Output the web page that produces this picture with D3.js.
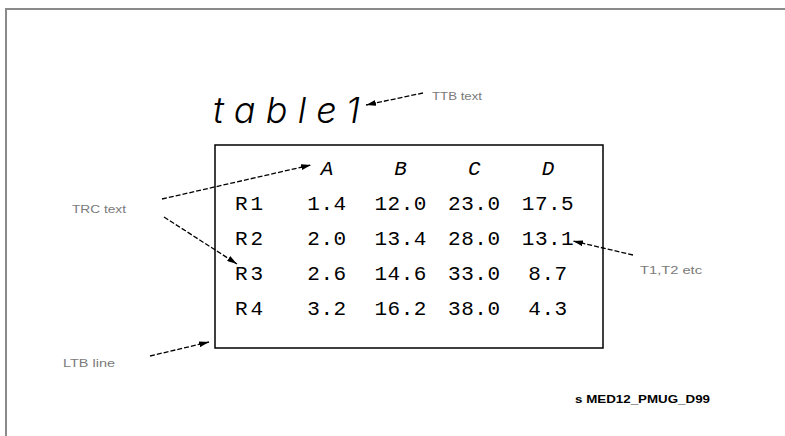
<!DOCTYPE html>
<html><head><meta charset="utf-8">
<script src="https://cdn.jsdelivr.net/npm/d3@7"></script>
<style>html,body{margin:0;padding:0;background:#fff;}svg{display:block;}</style>
</head><body>
<script>
// ---- data ----
const columns = ["A", "B", "C", "D"];
const rows = ["R1", "R2", "R3", "R4"];
const colA = [1.4, 2.0, 2.6, 3.2];
const colB = [12.0, 13.4, 14.6, 16.2];
const colC = [23.0, 28.0, 33.0, 38.0];
const colD = [17.5, 13.1, 8.7, 4.3];
const titleText = "table1";
const noteTTB = "TTB text";
const noteTRC = "TRC text";
const noteLTB = "LTB line";
const noteT = "T1,T2 etc";
const footer = "s MED12_PMUG_D99";

const W = 785, H = 436;
const svg = d3.select("body").append("svg").attr("width", W).attr("height", H);

// frame (top + left gray edges)
svg.append("line").attr("x1", 5).attr("x2", W).attr("y1", 9).attr("y2", 9).attr("stroke", "#8a8a8a").attr("stroke-width", 2);
svg.append("line").attr("x1", 6).attr("x2", 6).attr("y1", 8).attr("y2", H).attr("stroke", "#8a8a8a").attr("stroke-width", 2);

// scales
const x = d3.scalePoint().domain(columns).range([327, 548]);
const y = d3.scalePoint().domain(["hdr", ...rows]).range([167, 307]);

// table box
svg.append("rect").attr("x", 215).attr("y", 145).attr("width", 388).attr("height", 203)
  .attr("fill", "none").attr("stroke", "#000").attr("stroke-width", 1.5);

const tf = "'Liberation Mono', 'DejaVu Sans Mono', monospace";
// header
svg.selectAll("text.hdr").data(columns).join("text").attr("class", "hdr")
  .attr("x", d => x(d)).attr("y", y("hdr")).attr("dy", "0.36em")
  .attr("text-anchor", "middle").attr("font-family", tf).attr("font-size", 21)
  .attr("font-style", "italic").text(d => d);
// row labels
svg.selectAll("text.rl").data(rows).join("text").attr("class", "rl")
  .attr("x", 235).attr("y", d => y(d)).attr("dy", "0.36em")
  .attr("font-family", tf).attr("font-size", 21)
  .attr("textLength", 28).attr("lengthAdjust", "spacing").text(d => d);
// cells
const series = [colA, colB, colC, colD];
const cells = [];
series.forEach((vals, ci) => vals.forEach((v, ri) => cells.push({c: columns[ci], r: rows[ri], v})));
svg.selectAll("text.cell").data(cells).join("text").attr("class", "cell")
  .attr("x", d => x(d.c)).attr("y", d => y(d.r)).attr("dy", "0.36em")
  .attr("text-anchor", "middle").attr("font-family", tf).attr("font-size", 21)
  .attr("letter-spacing", 0.5).text(d => d.v.toFixed(1));

// title
svg.append("text").attr("x", 213).attr("y", 123)
  .attr("font-family", "Inter, 'Lato', 'Noto Sans', sans-serif")
  .attr("font-weight", 300).attr("font-style", "italic").attr("font-size", 36)
  .attr("textLength", 147).attr("lengthAdjust", "spacing").text(titleText);

// arrow marker
const defs = svg.append("defs");
defs.append("marker").attr("id", "ah").attr("viewBox", "0 0 10 6").attr("refX", 10).attr("refY", 3)
  .attr("markerWidth", 10).attr("markerHeight", 6).attr("markerUnits", "userSpaceOnUse").attr("orient", "auto")
  .append("path").attr("d", "M0,0L10,3L0,6Z").attr("fill", "#000");

const arrows = [
  [423, 93, 366, 105],
  [162, 199, 311, 165],
  [164, 217, 237, 264],
  [150, 356, 209, 342],
  [633, 255, 573, 241]
];
svg.selectAll("line.arr").data(arrows).join("line").attr("class", "arr")
  .attr("x1", d => d[0]).attr("y1", d => d[1]).attr("x2", d => d[2]).attr("y2", d => d[3])
  .attr("stroke", "#000").attr("stroke-width", 1.3).attr("stroke-dasharray", "5,2")
  .attr("marker-end", "url(#ah)");

// notes
const nf = "'Liberation Sans', Arial, sans-serif";
const notes = [
  {t: noteTTB, x: 432, y: 96, w: 50},
  {t: noteTRC, x: 72, y: 209, w: 54},
  {t: noteLTB, x: 63, y: 363, w: 52},
  {t: noteT, x: 640, y: 270, w: 62}
];
svg.selectAll("text.note").data(notes).join("text").attr("class", "note")
  .attr("x", d => d.x).attr("y", d => d.y).attr("dy", "0.36em")
  .attr("font-family", nf).attr("font-size", 11).attr("fill", "#7a7a7a")
  .attr("textLength", d => d.w).attr("lengthAdjust", "spacingAndGlyphs").text(d => d.t);

svg.append("text").attr("x", 575).attr("y", 399).attr("dy", "0.36em")
  .attr("font-family", nf).attr("font-size", 11).attr("font-weight", "bold").attr("fill", "#000")
  .attr("textLength", 135).attr("lengthAdjust", "spacingAndGlyphs").text(footer);
</script>
</body></html>
